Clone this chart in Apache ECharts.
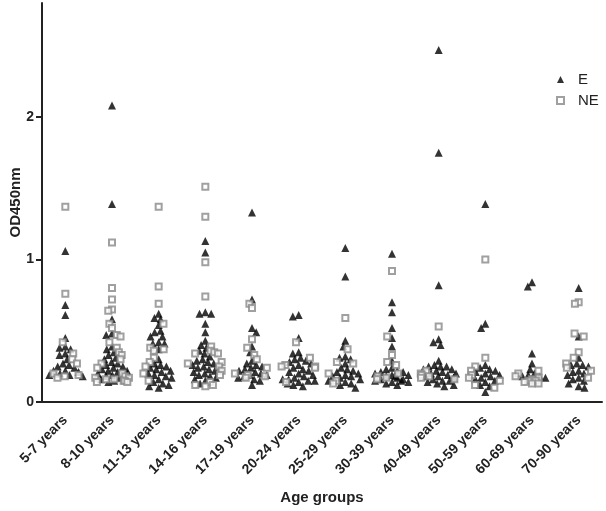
<!DOCTYPE html>
<html>
<head>
<meta charset="utf-8">
<script src="https://cdn.jsdelivr.net/npm/echarts@6/dist/echarts.min.js"></script>
<style>
html,body{margin:0;padding:0;background:#fff;}
#chart{width:606px;height:511px;}
</style>
</head>
<body>
<div id="chart"></div>
<script>
var categories = ['5-7 years','8-10 years','11-13 years','14-16 years','17-19 years','20-24 years','25-29 years','30-39 years','40-49 years','50-59 years','60-69 years','70-90 years'];
var yTickValues = [0, 1, 2];

var E_5_7   = [1.06,0.68,0.61,0.45,0.39,0.38,0.37,0.34,0.33,0.30,0.27,0.26,0.25,0.24,0.22,0.22,0.21,0.20,0.19,0.19,0.18];
var E_8_10  = [2.08,1.39,0.58,0.48,0.47,0.39,0.37,0.35,0.33,0.31,0.30,0.28,0.27,0.26,0.25,0.24,0.23,0.22,0.22,0.21,0.20,0.20,0.19,0.18,0.17,0.16,0.15,0.14];
var E_11_13 = [0.62,0.59,0.58,0.54,0.50,0.49,0.46,0.46,0.42,0.41,0.41,0.37,0.30,0.27,0.26,0.25,0.24,0.23,0.22,0.21,0.20,0.19,0.18,0.17,0.16,0.14,0.13,0.12,0.11,0.10];
var E_14_16 = [1.13,1.05,0.63,0.62,0.62,0.55,0.49,0.43,0.40,0.38,0.36,0.34,0.32,0.30,0.29,0.28,0.27,0.26,0.25,0.25,0.24,0.23,0.22,0.21,0.20,0.19,0.18,0.17,0.16,0.15,0.13];
var E_17_19 = [1.33,0.72,0.52,0.49,0.39,0.35,0.29,0.27,0.26,0.25,0.24,0.23,0.22,0.21,0.20,0.19,0.19,0.18,0.17,0.16,0.15,0.12];
var E_20_24 = [0.61,0.60,0.45,0.35,0.34,0.31,0.30,0.29,0.28,0.27,0.26,0.24,0.23,0.22,0.21,0.20,0.19,0.18,0.17,0.16,0.16,0.15,0.15,0.14,0.13,0.12,0.11];
var E_25_29 = [1.08,0.88,0.43,0.39,0.32,0.31,0.30,0.27,0.24,0.23,0.22,0.21,0.20,0.19,0.18,0.18,0.17,0.16,0.15,0.14,0.13,0.12,0.10];
var E_30_39 = [1.04,0.70,0.63,0.52,0.45,0.39,0.29,0.24,0.23,0.22,0.21,0.21,0.20,0.19,0.19,0.18,0.18,0.17,0.17,0.16,0.16,0.15,0.15,0.14,0.14,0.13,0.12];
var E_40_49 = [2.47,1.75,0.82,0.44,0.42,0.40,0.29,0.26,0.25,0.25,0.25,0.23,0.23,0.22,0.21,0.20,0.20,0.19,0.18,0.18,0.17,0.17,0.16,0.15,0.15,0.14,0.13,0.12,0.11];
var E_50_59 = [1.39,0.55,0.52,0.26,0.24,0.23,0.22,0.21,0.20,0.19,0.18,0.17,0.16,0.15,0.14,0.12,0.11,0.07];
var E_60_69 = [0.84,0.81,0.34,0.27,0.23,0.20,0.19,0.18,0.18,0.17];
var E_70_90 = [0.80,0.46,0.31,0.27,0.26,0.26,0.25,0.22,0.21,0.20,0.19,0.17,0.16,0.15,0.13,0.11,0.10];

var NE_5_7   = [1.37,0.76,0.42,0.34,0.30,0.27,0.20,0.19,0.18,0.17];
var NE_8_10  = [1.12,0.80,0.72,0.65,0.64,0.55,0.52,0.47,0.46,0.42,0.38,0.35,0.33,0.30,0.27,0.24,0.20,0.18,0.17,0.17,0.16,0.16,0.15,0.15,0.14,0.14];
var NE_11_13 = [1.37,0.81,0.69,0.55,0.38,0.37,0.36,0.31,0.28,0.25,0.20,0.15];
var NE_14_16 = [1.51,1.30,0.98,0.74,0.39,0.36,0.35,0.34,0.34,0.28,0.27,0.25,0.22,0.19,0.14,0.12,0.12,0.11];
var NE_17_19 = [0.69,0.66,0.44,0.38,0.33,0.30,0.24,0.20,0.19,0.18,0.17];
var NE_20_24 = [0.42,0.31,0.26,0.25,0.25,0.24,0.14];
var NE_25_29 = [0.59,0.37,0.28,0.27,0.20,0.15,0.13];
var NE_30_39 = [0.92,0.46,0.33,0.28,0.26,0.20,0.18,0.17,0.16];
var NE_40_49 = [0.53,0.22,0.20,0.19,0.18,0.17,0.16];
var NE_50_59 = [1.00,0.31,0.25,0.22,0.19,0.17,0.15,0.12,0.10];
var NE_60_69 = [0.22,0.20,0.18,0.17,0.16,0.15,0.15,0.14,0.13,0.13];
var NE_70_90 = [0.70,0.69,0.48,0.46,0.35,0.31,0.27,0.24,0.22,0.17];

var E_groups  = [E_5_7,E_8_10,E_11_13,E_14_16,E_17_19,E_20_24,E_25_29,E_30_39,E_40_49,E_50_59,E_60_69,E_70_90];
var NE_groups = [NE_5_7,NE_8_10,NE_11_13,NE_14_16,NE_17_19,NE_20_24,NE_25_29,NE_30_39,NE_40_49,NE_50_59,NE_60_69,NE_70_90];

function toPoints(groups){
  var out = [];
  groups.forEach(function(vals, i){
    vals.forEach(function(v){ out.push([categories[i], v]); });
  });
  return out;
}

var chart = echarts.init(document.getElementById('chart'), null, {renderer:'canvas'});
var FONT = 'Liberation Sans, Arial, sans-serif';
chart.setOption({
  animation: false,
  backgroundColor: '#fff',
  grid: {left: 42, right: 4, top: 3, bottom: 109, containLabel: false, outerBoundsMode: 'none'},
  legend: {
    orient: 'vertical',
    left: 551, top: 67,
    itemWidth: 7, itemHeight: 7, itemGap: 6,
    textStyle: {fontFamily: FONT, fontSize: 15, color: '#222', padding: [0, 0, 0, 9]},
    data: [
      {name: 'E', icon: 'triangle', itemStyle: {color: '#000'}},
      {name: 'NE', icon: 'rect', itemStyle: {color: '#fff', borderColor: '#888', borderWidth: 2}}
    ]
  },
  xAxis: {
    type: 'category',
    data: categories,
    boundaryGap: true,
    jitter: 36,
    jitterOverlap: false,
    jitterMargin: -2,
    axisLine: {lineStyle: {color: '#222', width: 2}},
    axisTick: {alignWithLabel: true, length: 6, lineStyle: {color: '#222', width: 2}},
    axisLabel: {rotate: 45, margin: 16, fontFamily: FONT, fontWeight: 'bold', fontSize: 14, color: '#222'},
    splitLine: {show: false},
    name: 'Age groups',
    nameLocation: 'middle',
    nameGap: 88,
    nameMoveOverlap: false,
    nameTextStyle: {fontFamily: FONT, fontWeight: 'bold', fontSize: 15, color: '#222'}
  },
  yAxis: {
    type: 'value',
    min: 0, max: 2.8, interval: 1,
    axisLine: {show: true, lineStyle: {color: '#222', width: 2}},
    axisTick: {show: true, length: 6, customValues: yTickValues, lineStyle: {color: '#222', width: 2}},
    axisLabel: {customValues: yTickValues, margin: 8, fontFamily: FONT, fontWeight: 'bold', fontSize: 14, color: '#222'},
    splitLine: {show: false},
    name: 'OD450nm',
    nameLocation: 'middle',
    nameGap: 19,
    nameRotate: 90,
    nameMoveOverlap: false,
    nameTextStyle: {fontFamily: FONT, fontWeight: 'bold', fontSize: 15, color: '#222'}
  },
  series: [
    {
      name: 'E', type: 'scatter',
      symbol: 'triangle', symbolSize: 8,
      itemStyle: {color: '#000'},
      data: toPoints(E_groups)
    },
    {
      name: 'NE', type: 'scatter',
      symbol: 'rect', symbolSize: 6,
      itemStyle: {color: '#fff', borderColor: '#888', borderWidth: 2},
      data: toPoints(NE_groups)
    }
  ]
});
</script>
</body>
</html>
